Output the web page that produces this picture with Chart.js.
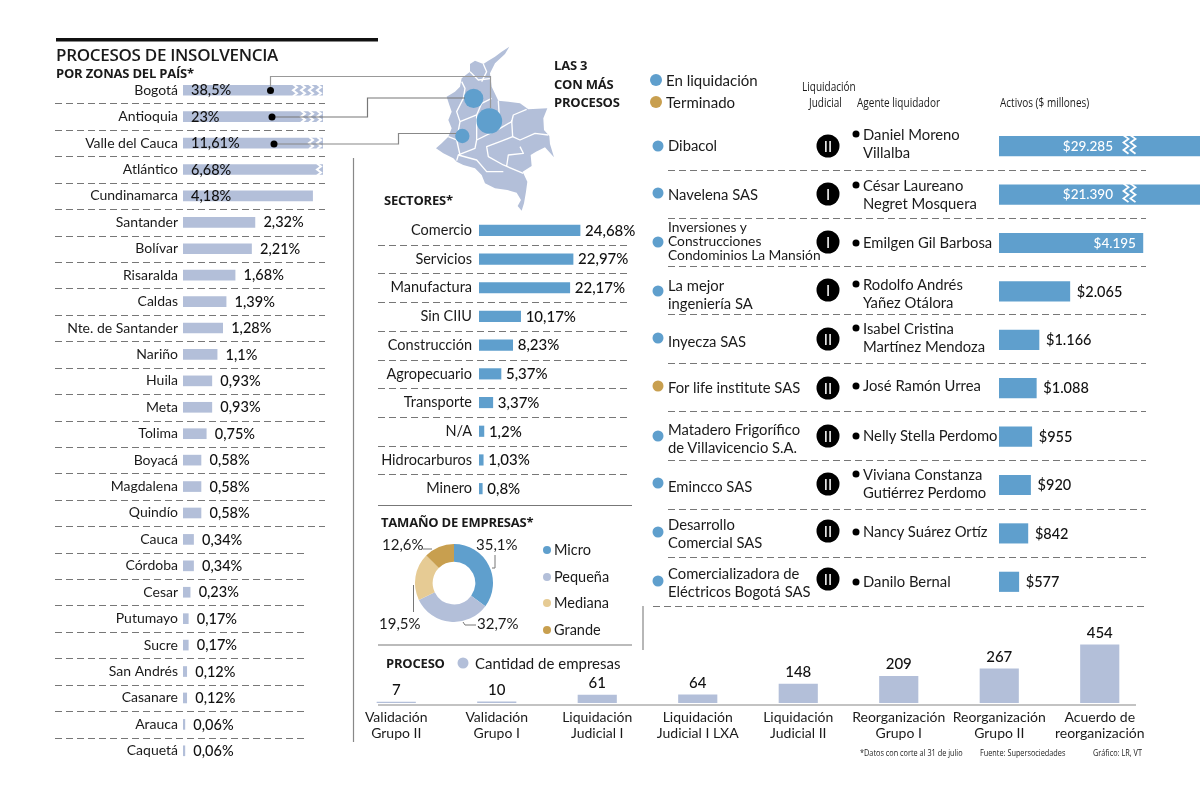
<!DOCTYPE html>
<html lang="es">
<head>
<meta charset="UTF-8">
<title>Procesos de insolvencia</title>
<script src="https://cdn.jsdelivr.net/npm/chart.js@4/dist/chart.umd.js"></script>
<style>
  body { margin: 0; background: #fff; }
  #page { position: relative; width: 1200px; height: 796px; overflow: hidden; font-family: Lato, sans-serif; color: #1a1a1a; }
  #page canvas, #page svg { position: absolute; }
  .t { position: absolute; white-space: nowrap; font-size: 15px; line-height: 1; transform: translateY(-50%); }
  .b { font-weight: 700; font-size: 13px; font-family: "Open Sans", sans-serif; letter-spacing: -0.2px; }
  .n { transform-origin: left center; transform: translateY(-50%) scaleX(.77); font-size: 13px; font-family: "Open Sans", sans-serif; }
  .f { font-size: 9.5px; }
  .dot { position: absolute; border-radius: 50%; transform: translate(-50%, -50%); }
  .badge { position: absolute; width: 23px; height: 23px; border-radius: 50%; background: #000; color: #fff; font-size: 15px; line-height: 23px; text-align: center; transform: translate(-50%, -50%); }
  .l2 { line-height: 17.5px; }
  .l3 { line-height: 14px; }
</style>
</head>
<body>
<div id="page">
  <canvas id="regionChart" width="285" height="687" style="left:50px;top:77px"></canvas>
  <canvas id="sectorChart" width="270" height="287" style="left:375px;top:216px"></canvas>
  <canvas id="sizeChart" width="84" height="84" style="left:412px;top:541px"></canvas>
  <canvas id="assetChart" width="201" height="484" style="left:999px;top:122px"></canvas>
  <canvas id="processChart" width="804" height="125" style="left:346px;top:625px"></canvas>

  <svg id="art" width="1200" height="796" style="left:0;top:0">
    <rect x="56" y="38" width="322" height="3.5" fill="#111"/>
    <g transform="translate(420 40) scale(.3333)">
      <path fill="#b3bfd9" d="M268 20 L245 35 L225 50 L205 62 L190 72 L165 62 L150 72 L150 95 L125 115 L120 140 L105 155 L80 170 L88 195 L95 215 L85 240 L95 265 L85 290 L65 310 L48 325 L70 340 L100 355 L110 365 L130 375 L165 385 L185 405 L195 430 L225 445 L262 450 L290 458 L303 480 L293 498 L305 512 L312 490 L318 455 L322 425 L308 395 L335 378 L332 345 L348 335 L375 322 L402 352 L390 312 L388 288 L372 270 L370 235 L382 205 L325 208 L300 190 L265 185 L235 182 L215 140 L210 100 L225 70 L255 42 Z"/>
      <g fill="none" stroke="#fff" stroke-width="4" stroke-linejoin="round">
        <path d="M275 240 L278 290 L240 305 L200 320 L205 350 L250 375 L310 400"/>
        <path d="M320 208 L280 225 L275 245 L240 265 L170 300"/>
        <path d="M278 290 L300 300 L345 280 L385 285"/>
        <path d="M300 320 L310 340 L265 345 L260 378"/>
        <path d="M170 300 L165 325 L115 345 L110 362"/>
        <path d="M115 345 L170 360 L200 395 L250 395"/>
        <path d="M150 95 L175 120 L215 115"/>
        <path d="M125 125 L135 145 L130 175 L110 215 L120 245 L110 300 L120 345"/>
        <path d="M215 175 L185 190 L170 225 L170 300"/>
        <path d="M190 72 L200 95 L185 125"/>
        <path d="M85 290 L110 300 M120 245 L170 225 M235 182 L240 265"/>
      </g>
      <circle cx="161" cy="175" r="29" fill="#5f9fcd"/>
      <circle cx="208" cy="243" r="38.5" fill="#5f9fcd"/>
      <circle cx="127" cy="288" r="21.5" fill="#5f9fcd"/>
    </g>
    <g fill="none" stroke-width="1.2">
      <path d="M270.5 90 V76.5 H490.5 V108" stroke="#999"/>
      <path d="M272 117 H367.5 V98 H465" stroke="#777"/>
      <path d="M274 144 H398.5 V133.5 H456" stroke="#888"/>
      <path d="M353.5 158 V742 M643 606 V650" stroke="#888"/>
      <path d="M378 505.5 H632" stroke="#777"/>
      <path d="M378 645 H632" stroke="#bbb" stroke-width="2"/>
      <path d="M378 705 H1136" stroke="#888"/>
      <path d="M495 555 V568 H492 M423 549 H432 M413.5 585 V612 M463 622 L465 625 H476" stroke="#777" stroke-width="1"/>
    </g>
    <g fill="#000">
      <circle cx="270.5" cy="90.5" r="3.5"/><circle cx="272" cy="117" r="3.5"/><circle cx="274" cy="144" r="3.5"/>
    </g>
    <g id="assetRules" fill="none" stroke="#777" stroke-dasharray="7 4"></g>
  </svg>

  <div class="t" style="left:56px;top:54px;font:600 17px 'Open Sans',sans-serif;letter-spacing:-.3px">PROCESOS DE INSOLVENCIA</div>
  <div class="t b" style="left:56px;top:73px">POR ZONAS DEL PAÍS*</div>
  <div class="t b" style="left:554px;top:65px">LAS 3</div>
  <div class="t b" style="left:554px;top:84px">CON MÁS</div>
  <div class="t b" style="left:554px;top:102px">PROCESOS</div>
  <div class="t b" style="left:384px;top:200px">SECTORES*</div>
  <div class="t b" style="left:381px;top:522px">TAMAÑO DE EMPRESAS*</div>
  <div class="t b" style="left:386px;top:663px">PROCESO</div>
  <div class="dot" style="left:463px;top:663px;width:11px;height:11px;background:#b3bfd9"></div>
  <div class="t" style="left:475px;top:663px">Cantidad de empresas</div>

  <div class="dot" style="left:656px;top:80px;width:12px;height:12px;background:#5f9fcd"></div>
  <div class="t" style="left:666px;top:80px">En liquidación</div>
  <div class="dot" style="left:656px;top:102px;width:12px;height:12px;background:#c89f4f"></div>
  <div class="t" style="left:666px;top:102px">Terminado</div>
  <div class="t n" style="left:802px;top:86px">Liquidación</div>
  <div class="t n" style="left:809px;top:102px">Judicial</div>
  <div class="t n" style="left:857px;top:102px">Agente liquidador</div>
  <div class="t n" style="left:1000px;top:102px">Activos ($ millones)</div>

  <div class="t" style="left:476px;top:544px">35,1%</div>
  <div class="t" style="left:382px;top:544px">12,6%</div>
  <div class="t" style="left:379px;top:623px">19,5%</div>
  <div class="t" style="left:477px;top:623px">32,7%</div>
  <div id="sizeLegend"></div>
  <div id="companyRows"></div>

  <div class="t n f" style="left:860px;top:753px">*Datos con corte al 31 de julio</div>
  <div class="t n f" style="left:980px;top:753px">Fuente: Supersociedades</div>
  <div class="t n f" style="left:1093px;top:753px">Gráfico: LR, VT</div>
</div>

<script>
  var regionNames = ['Bogotá', 'Antioquia', 'Valle del Cauca', 'Atlántico', 'Cundinamarca', 'Santander', 'Bolívar', 'Risaralda', 'Caldas', 'Nte. de Santander', 'Nariño', 'Huila', 'Meta', 'Tolima', 'Boyacá', 'Magdalena', 'Quindío', 'Cauca', 'Córdoba', 'Cesar', 'Putumayo', 'Sucre', 'San Andrés', 'Casanare', 'Arauca', 'Caquetá'];
  var regionValues = [38.5, 23, 11.61, 6.68, 4.18, 2.32, 2.21, 1.68, 1.39, 1.28, 1.1, 0.93, 0.93, 0.75, 0.58, 0.58, 0.58, 0.34, 0.34, 0.23, 0.17, 0.17, 0.12, 0.12, 0.06, 0.06];
  var regionBreaks = [4, 3, 2, 1];

  var sectorNames = ['Comercio', 'Servicios', 'Manufactura', 'Sin CIIU', 'Construcción', 'Agropecuario', 'Transporte', 'N/A', 'Hidrocarburos', 'Minero'];
  var sectorValues = [24.68, 22.97, 22.17, 10.17, 8.23, 5.37, 3.37, 1.2, 1.03, 0.8];

  var sizeNames = ['Micro', 'Pequeña', 'Mediana', 'Grande'];
  var sizeValues = [35.1, 32.7, 19.5, 12.6];

  var companyNames = [['Dibacol'], ['Navelena SAS'], ['Inversiones y', 'Construcciones', 'Condominios La Mansión'], ['La mejor', 'ingeniería SA'], ['Inyecza SAS'], ['For life institute SAS'], ['Matadero Frigorífico', 'de Villavicencio S.A.'], ['Emincco SAS'], ['Desarrollo', 'Comercial SAS'], ['Comercializadora de', 'Eléctricos Bogotá SAS']];
  var companyStatus = ['En liquidación', 'En liquidación', 'En liquidación', 'En liquidación', 'En liquidación', 'Terminado', 'En liquidación', 'En liquidación', 'En liquidación', 'En liquidación'];
  var companyLevel = ['II', 'I', 'I', 'I', 'II', 'II', 'II', 'II', 'II', 'II'];
  var companyAgents = [['Daniel Moreno', 'Villalba'], ['César Laureano', 'Negret Mosquera'], ['Emilgen Gil Barbosa'], ['Rodolfo Andrés', 'Yañez Otálora'], ['Isabel Cristina', 'Martínez Mendoza'], ['José Ramón Urrea'], ['Nelly Stella Perdomo'], ['Viviana Constanza', 'Gutiérrez Perdomo'], ['Nancy Suárez Ortíz'], ['Danilo Bernal']];
  var companyAssets = [29285, 21390, 4195, 2065, 1166, 1088, 955, 920, 842, 577];

  var processNames = [['Validación', 'Grupo II'], ['Validación', 'Grupo I'], ['Liquidación', 'Judicial I'], ['Liquidación', 'Judicial I LXA'], ['Liquidación', 'Judicial II'], ['Reorganización', 'Grupo I'], ['Reorganización', 'Grupo II'], ['Acuerdo de', 'reorganización']];
  var processValues = [7, 10, 61, 64, 148, 209, 267, 454];

  // layout of the text rows on the right, not data
  var nameY = [146, 195, 241, 294, 342, 388, 438, 487, 533, 582];
  var agentY = [143, 194, 243, 293, 337, 386, 436, 483, 532, 582];
  var badgeY = [146, 194, 242, 290, 339, 388, 436, 484, 531, 579];
  var dotY = [146, 193, 242, 291, 338, 386, 436, 483, 532, 581];
  var ruleY = [170, 218, 266, 314, 363, 411, 460, 509, 557];

  var BLUE = '#5f9fcd', GREY = '#b3bfd9', SAND = '#e6cb94', GOLD = '#c89f4f';
  var FONT = 'Lato, sans-serif';
  var statusColor = { 'En liquidación': BLUE, 'Terminado': GOLD };

  function pct(v) { return String(v).replace('.', ',') + '%'; }
  function money(v) { return '$' + String(v).replace(/(\d)(\d{3})$/, '$1.$2'); }

  function zigzag(ctx, x, top, bottom, amp, step) {
    ctx.beginPath();
    var side = -1;
    for (var y = top; y <= bottom + 0.1; y += step) {
      ctx.lineTo(x + side * amp, y);
      side = -side;
    }
    ctx.stroke();
  }

  // the axis asks for room for half a label above and below, we don't want it
  function noLabelPadding(s) {
    s.paddingTop = s.paddingBottom = s.paddingLeft = s.paddingRight = 0;
  }

  // horizontal bars with text at the end of the bar, shared by the three lists
  function hbars(id, names, values, cfg) {
    return new Chart(document.getElementById(id), {
      type: 'bar',
      data: { labels: names, datasets: [{ data: values, backgroundColor: cfg.color, barThickness: cfg.thick }] },
      options: {
        indexAxis: 'y',
        responsive: false,
        animation: false,
        layout: { padding: { right: cfg.padRight || 0 } },
        plugins: { legend: { display: false }, tooltip: { enabled: false } },
        scales: {
          x: { display: false, min: 0, max: cfg.max },
          y: {
            display: cfg.axisWidth > 0,
            afterFit: function (s) { s.width = cfg.axisWidth; noLabelPadding(s); },
            grid: { display: false, drawTicks: false },
            border: { display: false },
            ticks: { autoSkip: false, padding: cfg.tickPad, color: '#1a1a1a', font: { family: FONT, size: cfg.size } }
          }
        }
      },
      plugins: [{
        id: 'barText',
        afterDatasetsDraw: function (chart) {
          var ctx = chart.ctx, area = chart.chartArea;
          var bars = chart.getDatasetMeta(0).data;
          ctx.save();
          if (cfg.rule) {
            ctx.strokeStyle = '#777';
            ctx.lineWidth = 1;
            ctx.setLineDash([7, 4]);
            for (var r = 0; r < bars.length - 1; r++) {
              var ry = Math.round((bars[r].y + bars[r + 1].y) / 2) + 0.5;
              ctx.beginPath();
              ctx.moveTo(cfg.rule.from, ry);
              ctx.lineTo(r > cfg.rule.longUntil ? cfg.rule.shortTo : cfg.rule.to, ry);
              ctx.stroke();
            }
            ctx.setLineDash([]);
          }
          if (cfg.breaks) cfg.breaks(ctx, area, bars);
          ctx.textBaseline = 'middle';
          bars.forEach(function (bar, i) {
            var spot = cfg.spot(i, Math.min(bar.x, area.right), area);
            ctx.font = '500 ' + (spot.size || cfg.valueSize) + 'px ' + FONT;
            ctx.fillStyle = spot.color || '#111';
            ctx.textAlign = spot.align || 'left';
            ctx.fillText(cfg.text(values[i]), spot.x, bar.y + 0.5);
          });
          ctx.restore();
        }
      }]
    });
  }

  hbars('regionChart', regionNames, regionValues, {
    color: GREY, thick: 10, max: 4.516, axisWidth: 133, padRight: 12, tickPad: 5, size: 14, valueSize: 14.5,
    text: pct,
    rule: { from: 5, to: 275, shortTo: 257, longUntil: 16 },
    spot: function (i, end, area) { return { x: i < 5 ? area.left + 8 : end + 8.5 }; },
    breaks: function (ctx, area, bars) {
      ctx.strokeStyle = '#fff';
      ctx.lineWidth = 2;
      regionBreaks.forEach(function (count, i) {
        for (var k = 0; k < count; k++) {
          zigzag(ctx, area.right - 4 - k * 8, bars[i].y - 6, bars[i].y + 6, 2, 3);
        }
      });
    }
  });

  hbars('sectorChart', sectorNames, sectorValues, {
    color: BLUE, thick: 10.5, max: 40.3, axisWidth: 104, padRight: 1, tickPad: 7, size: 14.5, valueSize: 15,
    text: pct,
    rule: { from: 3, to: 255, shortTo: 255, longUntil: 99 },
    spot: function (i, end) { return { x: end + 5 }; }
  });

  hbars('assetChart', companyNames.map(function (n) { return n.join(' '); }), companyAssets, {
    color: BLUE, thick: 19.5, max: 5860, axisWidth: 0, tickPad: 0, size: 10, valueSize: 14.5,
    text: money,
    spot: function (i, end, area) {
      if (i < 2) return { x: area.left + 114, align: 'right', color: '#fff', size: 13.5 };
      if (i === 2) return { x: end - 7, align: 'right', color: '#fff', size: 13.5 };
      return { x: end + 7 };
    },
    breaks: function (ctx, area, bars) {
      ctx.strokeStyle = '#fff';
      ctx.lineWidth = 1.8;
      [0, 1].forEach(function (i) {
        zigzag(ctx, area.left + 127, bars[i].y - 11, bars[i].y + 11, 2.5, 3.7);
        zigzag(ctx, area.left + 134, bars[i].y - 11, bars[i].y + 11, 2.5, 3.7);
      });
    }
  });

  new Chart(document.getElementById('sizeChart'), {
    type: 'doughnut',
    data: { labels: sizeNames, datasets: [{ data: sizeValues, backgroundColor: [BLUE, GREY, SAND, GOLD], borderWidth: 0 }] },
    options: {
      responsive: false,
      animation: false,
      radius: 39,
      cutout: 23,
      plugins: { legend: { display: false }, tooltip: { enabled: false } }
    }
  });

  new Chart(document.getElementById('processChart'), {
    type: 'bar',
    data: { labels: processNames, datasets: [{ data: processValues, backgroundColor: GREY, barThickness: 38.5 }] },
    options: {
      responsive: false,
      animation: false,
      plugins: { legend: { display: false }, tooltip: { enabled: false } },
      scales: {
        y: { display: false, min: 0, max: 610 },
        x: {
          afterFit: function (s) { s.height = 47; noLabelPadding(s); },
          grid: { display: false, drawTicks: false },
          border: { display: false },
          ticks: { autoRotate: false, maxRotation: 0, padding: 6, color: '#1a1a1a', font: { family: FONT, size: 14, lineHeight: 1.15 } }
        }
      }
    },
    plugins: [{
      id: 'processText',
      afterDatasetsDraw: function (chart) {
        var ctx = chart.ctx;
        ctx.save();
        ctx.font = '500 15px ' + FONT;
        ctx.fillStyle = '#111';
        ctx.textAlign = 'center';
        ctx.textBaseline = 'middle';
        chart.getDatasetMeta(0).data.forEach(function (bar, i) {
          ctx.fillText(processValues[i], bar.x, bar.y - 12);
        });
        ctx.restore();
      }
    }]
  });

  // legend of the doughnut
  var sizeColors = [BLUE, GREY, SAND, GOLD];
  var legendHtml = '';
  sizeNames.forEach(function (name, i) {
    var y = 550 + i * 26.7;
    legendHtml += '<div class="dot" style="left:547px;top:' + y + 'px;width:8px;height:8px;background:' + sizeColors[i] + '"></div>' +
      '<div class="t" style="left:554px;top:' + y + 'px;font-size:14.5px">' + name + '</div>';
  });
  document.getElementById('sizeLegend').innerHTML = legendHtml;

  // text rows of the company table
  var rowsHtml = '';
  companyNames.forEach(function (name, i) {
    var lineClass = name.length === 3 ? 'l3' : 'l2';
    var nameSize = name.length === 3 ? 13.8 : 14.8;
    rowsHtml += '<div class="dot" style="left:658px;top:' + dotY[i] + 'px;width:11px;height:11px;background:' + statusColor[companyStatus[i]] + '"></div>' +
      '<div class="t ' + lineClass + '" style="left:668px;top:' + nameY[i] + 'px;font-size:' + nameSize + 'px">' + name.join('<br>') + '</div>' +
      '<div class="badge" style="left:828px;top:' + badgeY[i] + 'px">' + companyLevel[i] + '</div>' +
      '<div class="dot" style="left:856px;top:' + (companyAgents[i].length === 2 ? agentY[i] - 9 : agentY[i]) + 'px;width:7px;height:7px;background:#000"></div>' +
      '<div class="t l2" style="left:863px;top:' + agentY[i] + 'px;font-size:14.8px">' + companyAgents[i].join('<br>') + '</div>';
  });
  document.getElementById('companyRows').innerHTML = rowsHtml;

  var rules = document.getElementById('assetRules');
  ruleY.forEach(function (y) {
    var line = document.createElementNS('http://www.w3.org/2000/svg', 'path');
    line.setAttribute('d', 'M668 ' + (y + 0.5) + ' H1146');
    rules.appendChild(line);
  });
  var lastRule = document.createElementNS('http://www.w3.org/2000/svg', 'path');
  lastRule.setAttribute('d', 'M653 606.5 H1146');
  rules.appendChild(lastRule);
</script>
</body>
</html>
